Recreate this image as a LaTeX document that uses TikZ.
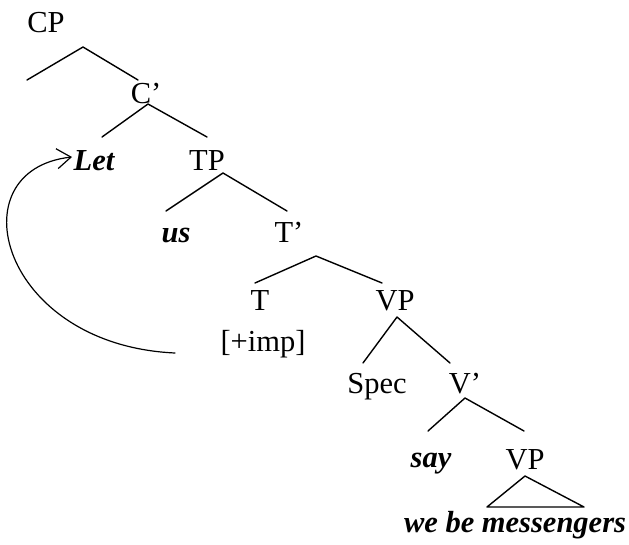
\documentclass[tikz,border=0pt]{standalone}
\usepackage{fontspec}
\setmainfont{Liberation Serif}
\usetikzlibrary{arrows.meta}
\begin{document}
\begin{tikzpicture}[x=1pt,y=-1pt,line join=round,line cap=round,line width=1.4pt,
	lbl/.style={anchor=base,inner sep=0pt,font=\fontsize{30.5}{36}\selectfont},
	wrd/.style={lbl,font=\fontsize{30.5}{36}\selectfont\bfseries\itshape}]
	\useasboundingbox (0,0) rectangle (629,544);
	\path
	(27,80) coordinate (CPl)
	(83,47) coordinate (CPt)
	(138,80) coordinate (CPr)
	(102,137) coordinate (Cl)
	(148,104) coordinate (Ct)
	(207,137) coordinate (Cr)
	(166,211) coordinate (TPl)
	(223,173) coordinate (TPt)
	(287,211) coordinate (TPr)
	(255,283) coordinate (Tl)
	(316,256) coordinate (Tt)
	(382,283) coordinate (Tr)
	(363,363) coordinate (VPl)
	(397,317) coordinate (VPt)
	(450,363) coordinate (VPr)
	(428,431) coordinate (Vl)
	(465,398) coordinate (Vt)
	(524,431) coordinate (Vr)
	(525,476) coordinate (Rt)
	(487,507) coordinate (Rl)
	(584,507) coordinate (Rr)
	(175,353) coordinate (mv)
	(72,157) coordinate (ld)
	;
	\draw (CPl)--(CPt)--(CPr) (Cl)--(Ct)--(Cr) (TPl)--(TPt)--(TPr) (Tl)--(Tt)--(Tr)
	(VPl)--(VPt)--(VPr) (Vl)--(Vt)--(Vr) (Rt)--(Rl)--(Rr)--cycle;
	\node[lbl] (CP) at (46,32) {CP};
	\node[lbl] (C) at (146,103) {C’};
	\node[wrd] (Let) at (94,170) {Let};
	\node[lbl] (TP) at (207,170) {TP};
	\node[wrd] (us) at (176,242) {us};
	\node[lbl] (T') at (289,242) {T’};
	\node[lbl] (T) at (260,310) {T};
	\node[lbl] (VP) at (395,310) {VP};
	\node[lbl] (imp) at (263,351) {[+imp]};
	\node[lbl] (Spec) at (377,393) {Spec};
	\node[lbl] (V') at (465,393) {V’};
	\node[wrd] (say) at (431,467) {say};
	\node[lbl] (VP2) at (525,469) {VP};
	\node[wrd] (we) at (515,532) {we be messengers};
	\draw[line width=1.2pt,-{Straight Barb[length=14pt,width=20pt]}] (mv) .. controls (0,345) and (-45,170) .. (ld);
\end{tikzpicture}
\end{document}
